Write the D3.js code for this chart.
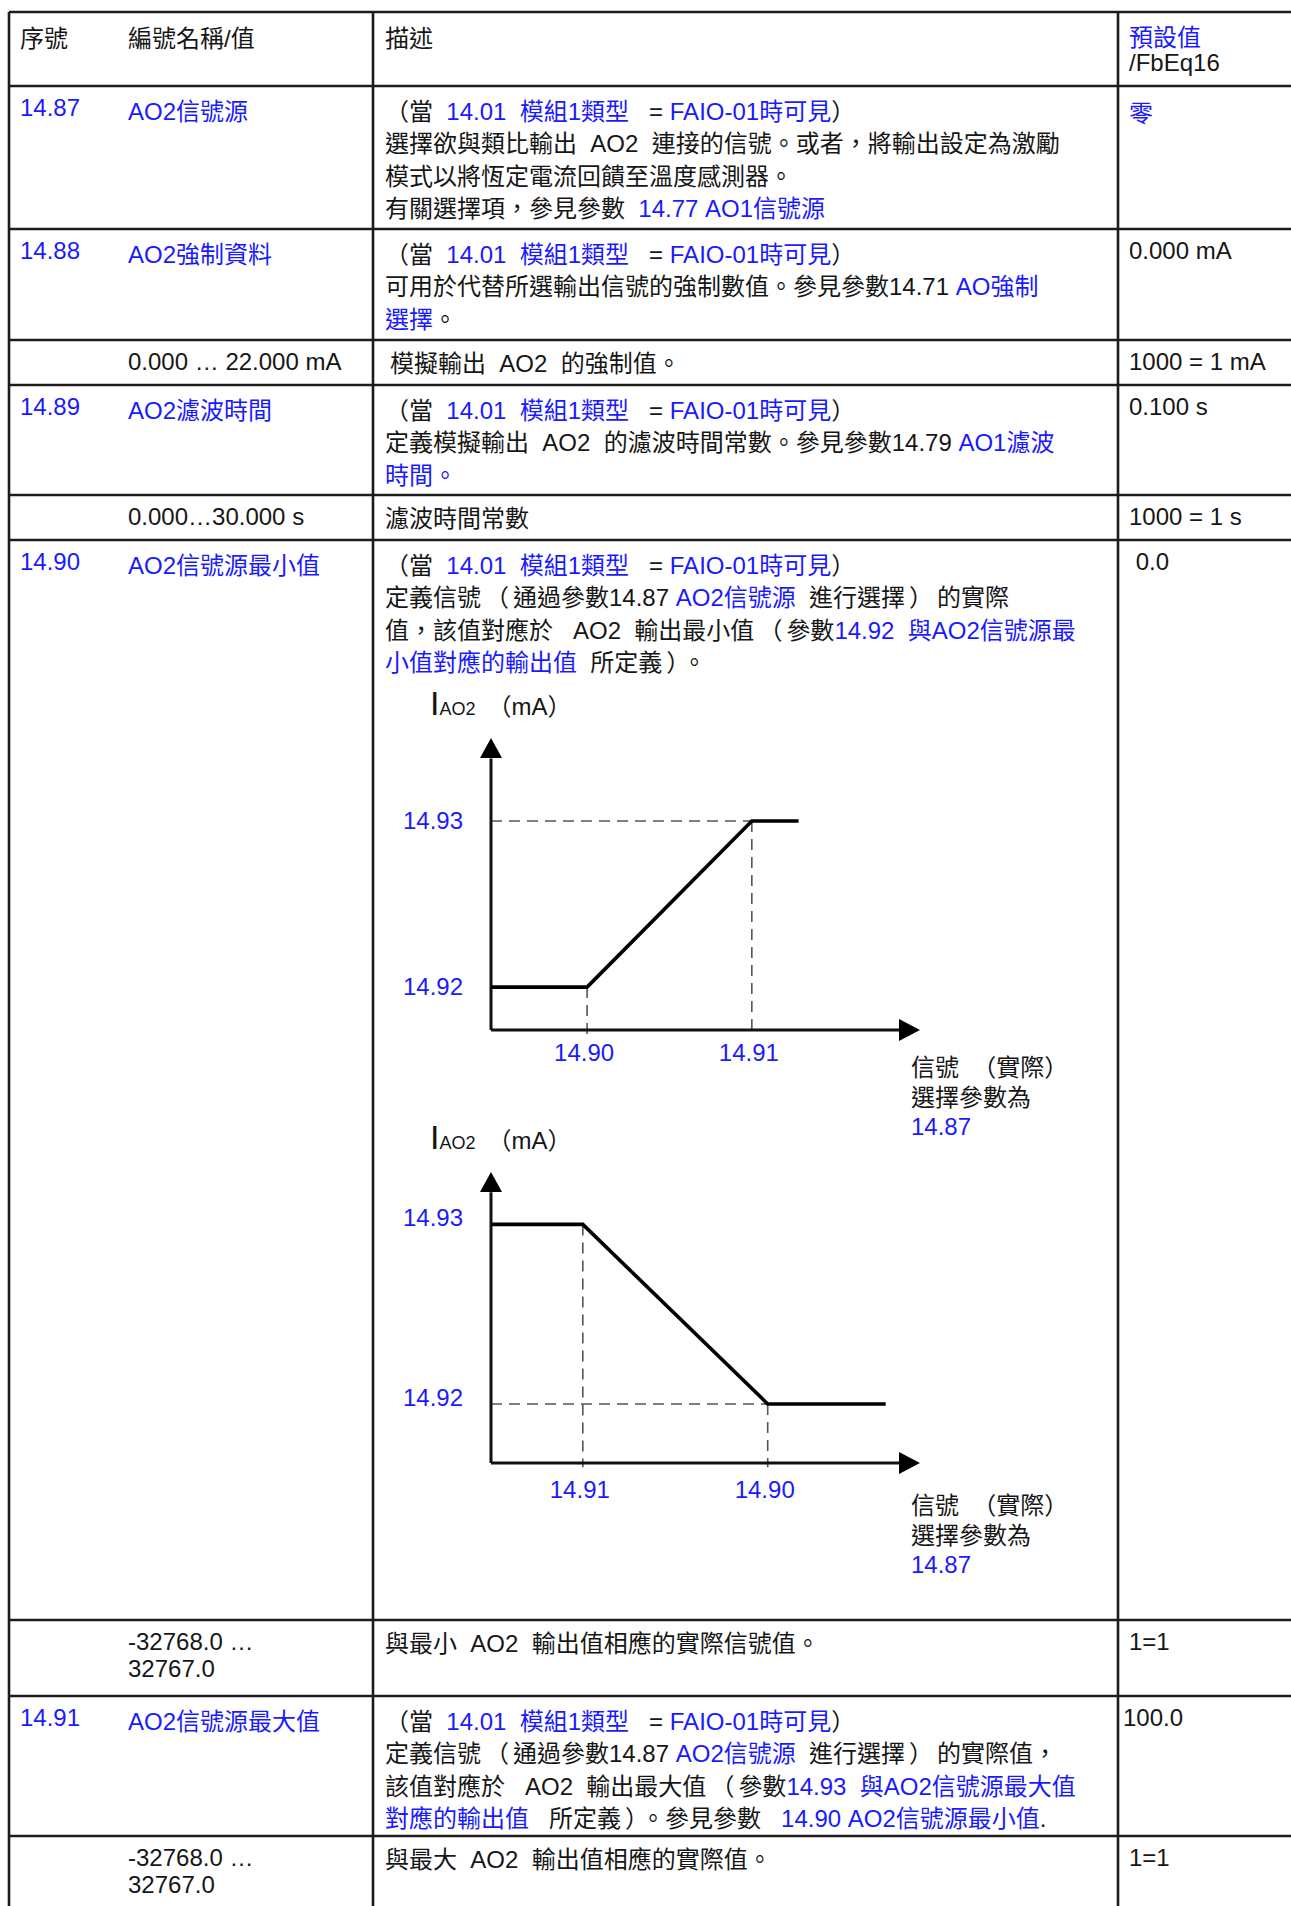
<!DOCTYPE html>
<html><head><meta charset="utf-8">
<script src="https://cdn.jsdelivr.net/npm/d3@7"></script>
<style>
html,body{margin:0;padding:0;background:#fff;}
svg{display:block;}
text{font-family:"Liberation Sans",Arial,"Noto Sans CJK TC",sans-serif;font-size:24px;white-space:pre;}
</style></head><body>
<svg id="c" width="1291" height="1906"></svg>
<script>
// ---------- DATA ----------
const headerLabels = ["序號", "編號名稱/值", "描述"];
const headerDefault = ["[[預設值]]", "/FbEq16"];

const rowIds = ["14.87", "14.88", "", "14.89", "", "14.90", "", "14.91", ""];
const rowNames = [
  ["[[AO2信號源]]"],
  ["[[AO2強制資料]]"],
  ["0.000 … 22.000 mA"],
  ["[[AO2濾波時間]]"],
  ["0.000…30.000 s"],
  ["[[AO2信號源最小值]]"],
  ["-32768.0 …", "32767.0"],
  ["[[AO2信號源最大值]]"],
  ["-32768.0 …", "32767.0"]
];
const visibleLine = "（當  [[14.01  模組1類型]]   = [[FAIO-01時可見]]）";
const rowDescs = [
  [visibleLine,
   "選擇欲與類比輸出  AO2  連接的信號。或者，將輸出設定為激勵",
   "模式以將恆定電流回饋至溫度感測器。",
   "有關選擇項，參見參數  [[14.77 AO1信號源]]"],
  [visibleLine,
   "可用於代替所選輸出信號的強制數值。參見參數14.71 [[AO強制]]",
   "[[選擇]]。"],
  ["模擬輸出  AO2  的強制值。"],
  [visibleLine,
   "定義模擬輸出  AO2  的濾波時間常數。參見參數14.79 [[AO1濾波]]",
   "[[時間。]]"],
  ["濾波時間常數"],
  [visibleLine,
   "定義信號（通過參數14.87 [[AO2信號源]]  進行選擇）的實際",
   "值，該值對應於   AO2  輸出最小值（參數[[14.92  與AO2信號源最]]",
   "[[小值對應的輸出值]]  所定義）。"],
  ["與最小  AO2  輸出值相應的實際信號值。"],
  [visibleLine,
   "定義信號（通過參數14.87 [[AO2信號源]]  進行選擇）的實際值，",
   "該值對應於   AO2  輸出最大值（參數[[14.93  與AO2信號源最大值]]",
   "[[對應的輸出值]]   所定義）。參見參數   [[14.90 AO2信號源最小值]]."],
  ["與最大  AO2  輸出值相應的實際值。"]
];
const rowDefaults = ["[[零]]", "0.000 mA", "1000 = 1 mA", "0.100 s", "1000 = 1 s", " 0.0", "1=1", "100.0", "1=1"];

// diagram data (positions along the signal / current axes, in % of axis length)
const chart1XTicks = [["14.90", 22.4], ["14.91", 60.8]];
const chart1YTicks = [["14.92", 14.7], ["14.93", 71.6]];
const chart1Curve = [[0, 14.7], [22.4, 14.7], [60.8, 71.6], [71.7, 71.6]];

const chart2XTicks = [["14.91", 21.4], ["14.90", 64.5]];
const chart2YTicks = [["14.92", 20.3], ["14.93", 82.0]];
const chart2Curve = [[0, 82.0], [21.4, 82.0], [64.5, 20.3], [92.0, 20.3]];

const axisLabelMain = "I", axisLabelSub = "AO2", axisLabelUnit = "（mA）";
const xAxisLabel = [["信號  （實際）"], ["選擇參數為"], ["[[14.87]]"]];

// ---------- LAYOUT ----------
const BLUE = "#1a1aff", INK = "#161616", LINE = "#1c1c1c";
const svg = d3.select("#c");
const W = 1291, H = 1906;
const rowTops = [86, 229, 340, 385, 495, 540, 1620, 1696, 1836];
const hLines = [12].concat(rowTops);
const colX = [9, 373, 1118];
const xId = 20, xName = 128, xDesc = 385, xDef = 1129;
const descLH = 32.4;
const defaultDx = [0, 0, 0, 0, 0, 0, 0, -6, 0];
const defaultDy = [6, 0, 0, 0, 0, 0, 0, 0, 0];
const descDx = [0, 0, 5, 0, 0, 0, 0, 0, 0];
const isValueRow = rowIds.map(d => d === "");
const PAREN_PAD = 4; // extra room around full-width parentheses in the body text

function rich(g, str, x, y, extra, padParens) {
  const t = g.append("text").attr("x", x).attr("y", y).attr("fill", INK);
  if (extra) extra(t);
  let padNext = false;
  str.split(/(\[\[.*?\]\])/).filter(s => s.length).forEach(p => {
    const blue = p.startsWith("[[");
    const txt = blue ? p.slice(2, -2) : p;
    const pieces = padParens ? txt.split(/([（）])/).filter(s => s.length) : [txt];
    pieces.forEach(q => {
      const ts = t.append("tspan").attr("fill", blue ? BLUE : INK).text(q);
      const isParen = padParens && (q === "（" || q === "）");
      const dx = (isParen ? PAREN_PAD : 0) + (padNext ? PAREN_PAD : 0);
      if (dx) ts.attr("dx", dx);
      padNext = isParen;
    });
  });
  return t;
}

// table lines
const grid = svg.append("g");
grid.selectAll("line.h").data(hLines).enter().append("line")
  .attr("x1", colX[0]).attr("x2", W).attr("y1", d => d).attr("y2", d => d)
  .attr("stroke", LINE).attr("stroke-width", 2.6);
grid.selectAll("line.v").data(colX).enter().append("line")
  .attr("x1", d => d).attr("x2", d => d).attr("y1", 12).attr("y2", H)
  .attr("stroke", LINE).attr("stroke-width", 2.6);

// header
const hg = svg.append("g");
[xId, xName, xDesc].forEach((x, i) => rich(hg, headerLabels[i], x, 47));
rich(hg, headerDefault[0], xDef, 46);
rich(hg, headerDefault[1], xDef, 71);

// rows
const body = svg.append("g");
rowTops.forEach((top, i) => {
  if (rowIds[i]) rich(body, "[[" + rowIds[i] + "]]", xId, top + 30);
  rowNames[i].forEach((s, k) => rich(body, s, xName, top + (isValueRow[i] ? 30 : 34) + k * 27));
  rowDescs[i].forEach((s, k) => rich(body, s, xDesc + descDx[i], top + (isValueRow[i] ? 32 : 34) + k * descLH, null, k > 0));
  rich(body, rowDefaults[i], xDef + defaultDx[i], top + 30 + defaultDy[i]);
});

// diagrams
function diagram(cfg) {
  const g = svg.append("g");
  const x = d3.scaleLinear().domain([0, 100]).range([cfg.x0, cfg.x1]);
  const y = d3.scaleLinear().domain([0, 100]).range([cfg.y0, cfg.y1]);
  const line = d3.line().x(d => x(d[0])).y(d => y(d[1]));
  // dashed guides
  const inner = cfg.curve.slice(1, -1);
  inner.forEach(p => {
    g.append("path").attr("d", line([[p[0], p[1]], [p[0], -1.5]]))
      .attr("stroke", "#555").attr("stroke-width", 1.6).attr("stroke-dasharray", "11,7").attr("fill", "none");
    g.append("path").attr("d", line([[0, p[1]], [p[0], p[1]]]))
      .attr("stroke", "#555").attr("stroke-width", 1.6).attr("stroke-dasharray", "11,7").attr("fill", "none");
  });
  // axes
  g.append("path").attr("d", line([[0, 0], [0, 93]])).attr("stroke", "#111").attr("stroke-width", 3).attr("fill", "none");
  g.append("path").attr("d", line([[0, 0], [95.5, 0]])).attr("stroke", "#111").attr("stroke-width", 3).attr("fill", "none");
  const tx = x(0), ty = y(100);
  g.append("path").attr("d", `M${tx},${ty} L${tx - 11},${ty + 20} L${tx + 11},${ty + 20} Z`).attr("fill", "#000");
  const rx = x(100), ry = y(0);
  g.append("path").attr("d", `M${rx},${ry} L${rx - 21},${ry - 11} L${rx - 21},${ry + 11} Z`).attr("fill", "#000");
  // curve
  g.append("path").attr("d", line(cfg.curve)).attr("stroke", "#000").attr("stroke-width", 3.6)
    .attr("fill", "none").attr("stroke-linejoin", "miter");
  // tick labels
  cfg.yTicks.forEach(t => rich(g, "[[" + t[0] + "]]", cfg.x0 - 28, y(t[1]) + cfg.yLabDy, s => s.attr("text-anchor", "end")));
  cfg.xTicks.forEach(t => rich(g, "[[" + t[0] + "]]", x(t[1]) - 3, cfg.y0 + cfg.xLabDy, s => s.attr("text-anchor", "middle")));
  // y label
  const yl = g.append("text").attr("x", cfg.x0 - 61).attr("y", cfg.y1 - 23).attr("fill", INK);
  yl.append("tspan").attr("font-size", 34).text(axisLabelMain);
  yl.append("tspan").attr("font-size", 18).attr("dx", 0).text(axisLabelSub);
  yl.append("tspan").attr("font-size", 24).attr("dx", 12).text(axisLabelUnit);
  // x label
  xAxisLabel.forEach((s, k) => rich(g, s[0], 911, cfg.y0 + cfg.sideDy + k * 29.5));
}
diagram({x0: 491, x1: 920, y0: 1030, y1: 738, curve: chart1Curve, xTicks: chart1XTicks, yTicks: chart1YTicks, yLabDy: 8, xLabDy: 31, sideDy: 46});
diagram({x0: 491, x1: 920, y0: 1463, y1: 1172, curve: chart2Curve, xTicks: chart2XTicks, yTicks: chart2YTicks, yLabDy: 2, xLabDy: 35, sideDy: 51});
</script>
</body></html>
